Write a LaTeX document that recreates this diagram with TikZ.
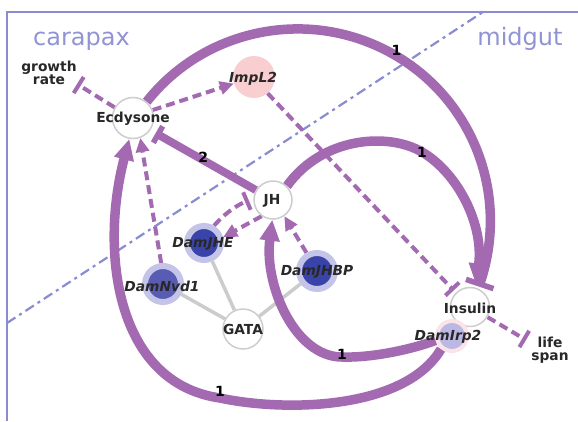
\documentclass[tikz,border=0pt]{standalone}
\usepackage{fontspec}
\setmainfont{DejaVu Sans}
\usetikzlibrary{arrows.meta}
\definecolor{purp}{RGB}{163,106,178}
\definecolor{bl}{RGB}{138,140,210}
\definecolor{reg}{RGB}{145,148,212}
\definecolor{ngray}{RGB}{205,205,205}
\definecolor{dkb}{RGB}{58,68,168}
\definecolor{dkbb}{RGB}{88,92,178}
\definecolor{halo}{RGB}{196,196,232}
\definecolor{irp}{RGB}{188,184,228}
\definecolor{irph}{RGB}{250,228,232}
\definecolor{pinkf}{RGB}{248,206,208}
\definecolor{txt}{RGB}{40,40,40}
\definecolor{gedge}{RGB}{204,204,204}
\pgfdeclarelayer{bg}
\pgfsetlayers{bg,main}
\begin{document}
\begin{tikzpicture}[x=1pt,y=-1pt,
  ntext/.style={font=\fontsize{13.8}{13}\selectfont\bfseries, text=txt, inner sep=0pt},
  gtext/.style={font=\fontsize{13.8}{13}\selectfont\bfseries\itshape, text=txt, inner sep=0pt},
  lbl/.style={font=\fontsize{14}{14}\selectfont\bfseries, text=black, inner sep=0pt},
  region/.style={font=\fontsize{24}{24}\selectfont, text=reg, anchor=base, inner sep=0pt},
  wnode/.style={circle, draw=ngray, line width=1.5pt, fill=white, inner sep=0pt},
  gnode/.style={circle, draw=halo, line width=6pt, minimum size=34pt, inner sep=0pt},
  thickarc/.style={purp, line width=9.5pt},
  bigtri/.style={-{Triangle[length=21pt,width=19pt]}},
  dsh/.style={purp, line width=4pt, dash pattern=on 9pt off 5pt},
  darr/.style={dsh, -{Triangle[length=14pt,width=13pt]}},
  dbar/.style={dsh, -{Bar[width=19pt,line width=4pt]}}
]
\useasboundingbox (0,0) rectangle (578,421);

% nodes
\node[wnode, minimum size=41pt] (Ecd) at (133,118) {};
\node[ntext] (EcdT) at (133,119) {Ecdysone};
\node[circle, fill=pinkf, minimum size=42pt, inner sep=0pt] (Imp) at (254,77) {};
\node[gtext] (ImpT) at (253,79) {ImpL2};
\node[wnode, minimum size=38pt] (JH) at (273,200) {};
\node[ntext] (JHT) at (272,201) {JH};
\node[gnode, fill=dkb] (JHE) at (204,243) {};
\node[gtext] (JHET) at (203,244) {DamJHE};
\node[gnode, fill=dkbb, minimum size=36pt] (Nvd) at (163,284) {};
\node[gtext] (NvdT) at (162,286) {DamNvd1};
\node[gnode, fill=dkb, minimum size=36pt] (JHBP) at (317,271) {};
\node[gtext] (JHBPT) at (317,272) {DamJHBP};
\node[wnode, minimum size=40pt] (GATA) at (243,329) {};
\node[ntext] (GATAT) at (243,329) {GATA};
\node[wnode, minimum size=39pt] (Ins) at (470,307) {};
\node[ntext] (InsT) at (470,308) {Insulin};
\node[circle, fill=irp, draw=irph, line width=4pt, minimum size=30pt, inner sep=0pt] (Irp) at (452,336) {};
\node[gtext] (IrpT) at (448,337) {DamIrp2};
\node[ntext, align=center] (gr) at (49,73) {growth\\rate};
\node[ntext, align=center] (ls) at (550,350) {life\\span};
\node[region] (car) at (81.5,45) {carapax};
\node[region] (mid) at (520,45) {midgut};
\coordinate (grT) at (77,84);
\coordinate (lsT) at (526,340);

\begin{pgfonlayer}{bg}
\fill[white] (0,0) rectangle (578,421);
% frame and divider
\draw[bl, line width=2.2pt] (7,421) -- (7,12) -- (578,12);
\draw[bl, line width=2.2pt, dash pattern=on 10pt off 4.5pt on 3pt off 4.5pt] (7,323) -- (483,12);
% gray links
\draw[gedge, line width=3.5pt] (GATA) -- (Nvd) (GATA) -- (JHE) (GATA) -- (JHBP);
% thick arcs
\draw[thickarc, -{Bar[width=29pt,line width=5.5pt]}, shorten >=2pt] (Ecd.50) .. controls (203.6,29.4) and (305.9,7.6) .. (388.6,51.6) node[lbl, xshift=8pt, yshift=1pt]{1} .. controls (471.3,95.6) and (510.5,192.5) .. (Ins.66);
\draw[thickarc, bigtri, shorten >=3pt] (JH.45) .. controls (322,137) and (388,132) .. (422,152) node[lbl]{1} .. controls (458,173) and (484,225) .. (Ins.74);
\draw[thickarc, bigtri] (Irp.-130) .. controls (405,410) and (285,412) .. (220,398) node[lbl, yshift=7pt]{1} .. controls (115,383) and (100,250) .. (Ecd.-100);
\draw[thickarc, bigtri] (Irp.-165) .. controls (410,350) and (370,358) .. (342,357) node[lbl, yshift=3pt]{1} .. controls (295,357) and (264,285) .. (JH.-92);
\draw[purp, line width=8pt, -{Bar[width=19pt,line width=5.5pt]}, shorten >=6pt] (JH.150) -- node[lbl, pos=0.5, yshift=3pt]{2} (Ecd.-35);
% dashed
\draw[darr] (Ecd.22) -- (Imp.198);
\draw[dbar] (Ecd.150) -- (grT);
\draw[dbar, shorten >=3pt] (Imp.-50) -- (Ins.135);
\draw[dbar] (Ins.-30) -- (lsT);
\draw[darr] (Nvd.95) -- (Ecd.-70);
\draw[dbar, shorten >=5pt] (JHE.60) .. controls (228,210) and (240,204) .. (JH.175);
\draw[darr] (JH.-125) -- (JHE.17);
\draw[darr] (JHBP.120) -- (JH.-55);
\end{pgfonlayer}
\end{tikzpicture}
\end{document}
